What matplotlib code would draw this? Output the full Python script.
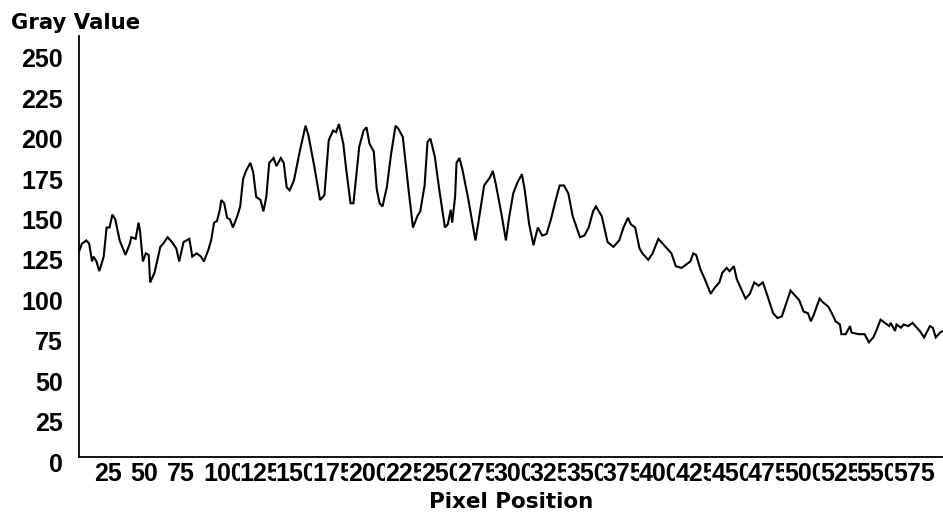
import matplotlib
matplotlib.use("Agg")
import matplotlib.pyplot as plt
from matplotlib.transforms import ScaledTranslation

# ---- data (pixel position, gray value) ----
pixel_pos = [0, 2, 5, 7, 9, 10, 12, 14, 17, 19, 21, 23, 25, 28, 32, 35, 36, 39, 41, 42,
             44, 46, 48, 49, 52, 56, 58, 61, 64, 67, 69, 72, 76, 78, 81, 84, 86, 89, 91, 93,
             95, 97, 98, 100, 102, 104, 106, 109, 111, 113, 115, 118, 120, 122, 125, 127, 129, 131, 134, 136,
             139, 141, 143, 145, 148, 152, 156, 158, 162, 166, 169, 172, 175, 177, 179, 182, 184, 187, 189, 193,
             196, 198, 200, 203, 205, 207, 209, 212, 215, 218, 220, 223, 227, 230, 233, 235, 238, 240, 242, 245,
             248, 252, 254, 256, 257, 259, 260, 262, 264, 268, 273, 275, 279, 283, 285, 287, 291, 294, 296, 299,
             302, 305, 307, 310, 313, 314, 316, 319, 322, 325, 328, 331, 334, 337, 340, 345, 348, 351, 354, 356,
             360, 364, 368, 372, 375, 378, 380, 383, 386, 388, 392, 395, 399, 404, 408, 411, 415, 418, 421, 423,
             425, 428, 431, 435, 438, 441, 443, 446, 448, 451, 453, 455, 459, 462, 465, 468, 471, 474, 478, 481,
             484, 487, 490, 493, 496, 499, 502, 504, 506, 508, 510, 512, 516, 519, 521, 524, 525, 528, 531, 532,
             537, 541, 544, 547, 549, 552, 555, 558, 559, 562, 563, 566, 568, 571, 574, 576, 579, 582, 586, 588,
             590, 593, 595]
gray_value = [127, 132, 134, 132, 121, 124, 121, 115, 124, 142, 142, 150, 147, 134, 125, 132, 136, 135, 145, 140,
              121, 126, 125, 108, 114, 130, 132, 136, 133, 129, 121, 133, 135, 124, 126, 124, 121, 128, 134, 145,
              146, 153, 159, 157, 148, 147, 142, 149, 155, 172, 177, 182, 176, 161, 159, 152, 161, 182, 185, 180,
              185, 182, 167, 165, 171, 189, 205, 199, 180, 159, 162, 196, 202, 201, 206, 194, 178, 157, 157, 192,
              202, 204, 194, 189, 166, 157, 155, 167, 188, 205, 203, 198, 165, 142, 149, 152, 168, 195, 197, 186,
              166, 142, 144, 153, 145, 161, 182, 185, 178, 160, 134, 145, 168, 173, 177, 169, 150, 134, 147, 163,
              170, 175, 165, 144, 131, 135, 142, 137, 138, 147, 158, 168, 168, 163, 149, 136, 137, 142, 152, 155,
              149, 133, 130, 134, 142, 148, 144, 142, 129, 126, 122, 126, 135, 130, 126, 118, 117, 119, 121, 126,
              125, 116, 110, 101, 105, 108, 114, 117, 115, 118, 110, 106, 98, 101, 108, 106, 108, 100, 89, 86,
              87, 95, 103, 100, 97, 90, 89, 84, 88, 93, 98, 96, 93, 88, 84, 82, 76, 76, 81, 77,
              76, 76, 71, 74, 78, 85, 83, 81, 83, 78, 82, 80, 82, 81, 83, 81, 78, 74, 81, 80,
              74, 77, 78]

y_ticks = [0, 25, 50, 75, 100, 125, 150, 175, 200, 225, 250]
x_ticks = [25, 50, 75, 100, 125, 150, 175, 200, 225, 250, 275, 300, 325, 350, 375, 400,
           425, 450, 475, 500, 525, 550, 575]
y_title = "Gray Value"
x_title = "Pixel Position"

W, H = 943, 520
fig = plt.figure(figsize=(W / 100, H / 100), dpi=100)
ax = fig.add_axes([79 / W, 63 / H, 1 - 79 / W, (457 - 36) / H])

ax.plot(pixel_pos, gray_value, color="black", lw=1.5, solid_joinstyle="miter")
ax.set_xlim(0, 595)
ax.set_ylim(0, 260.5)

for s in ("top", "right"):
    ax.spines[s].set_visible(False)
for s in ("left", "bottom"):
    ax.spines[s].set_linewidth(1.3)
    ax.spines[s].set_color("black")

tick_font = dict(family="Liberation Sans", weight="bold", size=18)

ax.set_yticks(y_ticks)
ax.set_yticklabels([str(v) for v in y_ticks], fontdict=tick_font)
ax.set_xticks(x_ticks)
ax.set_xticklabels([str(v) for v in x_ticks], fontdict=tick_font)
ax.tick_params(axis="both", length=0)
ax.tick_params(axis="y", pad=11.5)
ax.tick_params(axis="x", pad=3.5)

yoff = ScaledTranslation(0, -5 / 100, fig.dpi_scale_trans)
for lab in ax.get_yticklabels():
    lab.set_transform(lab.get_transform() + yoff)

xoff = ScaledTranslation(-21 / 100, 0, fig.dpi_scale_trans)
for lab in ax.get_xticklabels():
    lab.set_horizontalalignment("left")
    lab.set_transform(lab.get_transform() + xoff)
    lab.set_bbox(dict(facecolor="white", edgecolor="none", pad=0))

fig.text(11 / W, 1 - 29 / H, y_title, ha="left", va="baseline",
         family="DejaVu Sans", weight="bold", size=15.3)
fig.text(511 / W, 12 / H, x_title, ha="center", va="baseline",
         family="DejaVu Sans", weight="bold", size=15.5)

fig.savefig("out.png", dpi=100, facecolor="white")
